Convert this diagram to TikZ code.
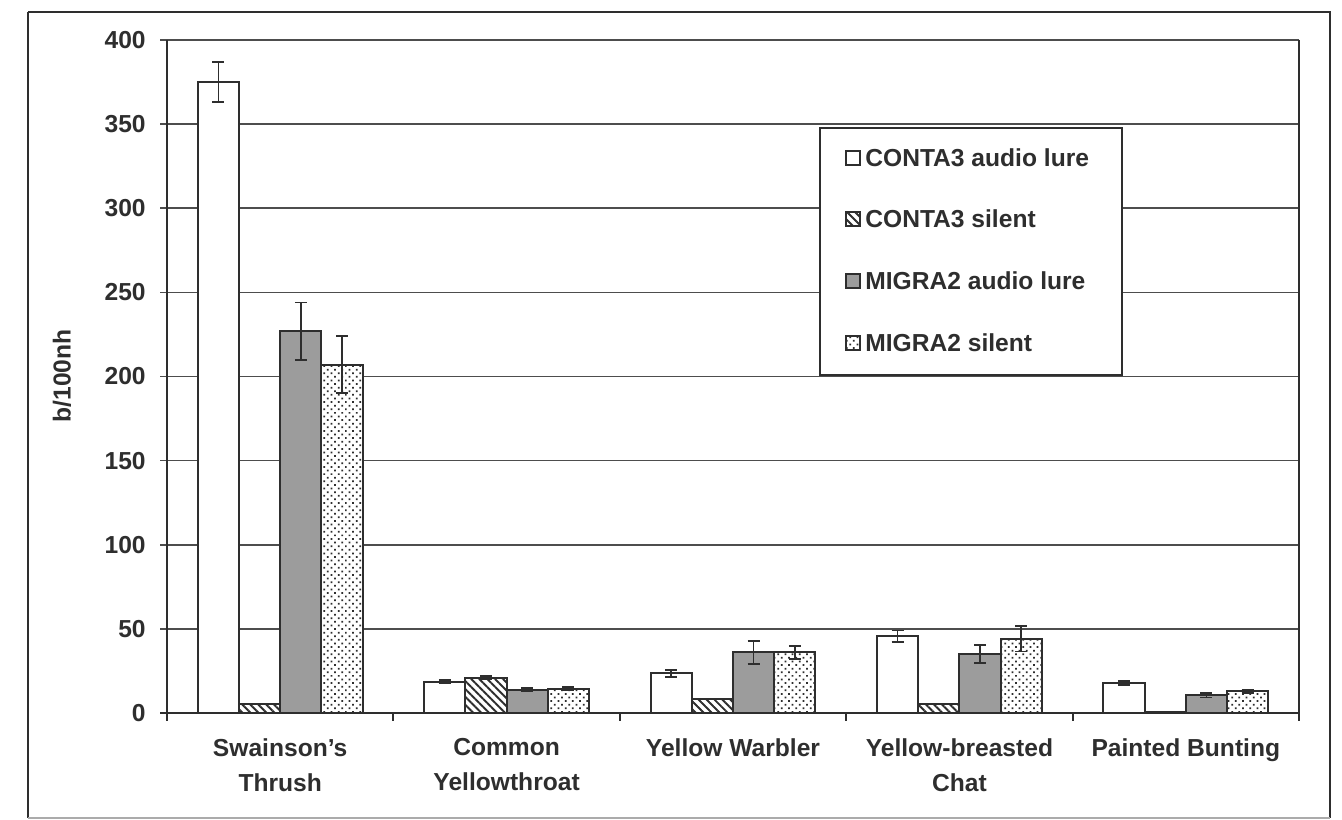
\documentclass[tikz,border=0pt]{standalone}
\usepackage{fontspec}
\setmainfont{Liberation Sans}
\usetikzlibrary{patterns.meta}
\definecolor{ink}{HTML}{2E2E2E}
\definecolor{barg}{HTML}{9C9C9C}
\begin{document}
\begin{tikzpicture}[x=0.02cm,y=-0.02cm,
  lbl/.style={font=\fontsize{14}{20}\selectfont\bfseries, text=ink, inner sep=0pt},
  axisline/.style={draw=ink, line width=1.1pt},
  gridline/.style={draw=ink!85, line width=0.9pt},
  bar0/.style={draw=ink, line width=1.1pt, fill=white},
  bar1/.style={draw=ink, line width=1.1pt, preaction={fill=white}, pattern={Lines[angle=-45,distance=3.2pt,line width=1.1pt]}, pattern color=ink},
  bar2/.style={draw=ink, line width=1.1pt, fill=barg},
  bar3/.style={draw=ink, line width=1.1pt, preaction={fill=white}, pattern={Dots[angle=45,distance=2.9pt,radius=0.7pt]}, pattern color=ink},
  errbar/.style={draw=ink, line width=1pt}]
\useasboundingbox (0,0) rectangle (1342,820);
% outer frame
\draw[draw=ink, line width=1pt] (28,12) -- (1330,12) -- (1330,818);
\draw[draw=ink, line width=1pt] (28,12) -- (28,818);
\draw[draw=ink!40, line width=0.6pt] (28,818) -- (1330,818);
% gridlines
\foreach \v in {50,100,...,400} {
  \pgfmathsetmacro\yy{713-1.6825*\v}
  \draw[gridline] (160,\yy) -- (1299,\yy);
}
% plot area sides
\draw[axisline] (167,40) -- (167,713);
\draw[axisline] (1299,40) -- (1299,713);
% bars: category/series/value/error
\foreach \c/\s/\v/\e in {
  0/0/375/12, 0/1/5.5/0, 0/2/227/17, 0/3/207/17,
  1/0/18.5/1, 1/1/21/0.8, 1/2/13.8/1, 1/3/14.5/1,
  2/0/23.5/2, 2/1/8.5/0, 2/2/36/7, 2/3/36/4,
  3/0/45.5/3.5, 3/1/5.5/0, 3/2/35/5.5, 3/3/44/7.5,
  4/0/18/1.2, 4/1/0.8/0, 4/2/10.5/1.3, 4/3/13/1} {
  \pgfmathsetmacro\xl{197.8+226.4*\c+41.2*\s}
  \pgfmathsetmacro\xr{\xl+41.2}
  \pgfmathsetmacro\xm{\xl+20.6}
  \pgfmathsetmacro\yt{713-1.6825*\v}
  \draw[bar\s] (\xl,713) rectangle (\xr,\yt);
  \pgfmathparse{\e>0 ? 1 : 0}
  \ifnum\pgfmathresult=1
    \pgfmathsetmacro\ya{713-1.6825*(\v+\e)}
    \pgfmathsetmacro\yb{713-1.6825*(\v-\e)}
    \draw[errbar] (\xm,\ya) -- (\xm,\yb);
    \draw[errbar] (\xm-6,\ya) -- (\xm+6,\ya);
    \draw[errbar] (\xm-6,\yb) -- (\xm+6,\yb);
  \fi
}
% bottom axis
\draw[axisline] (160,713) -- (1299,713);
\foreach \k in {0,...,5} {
  \pgfmathsetmacro\xx{167+226.4*\k}
  \draw[axisline] (\xx,713) -- (\xx,721);
}
% y tick labels
\foreach \v in {0,50,...,400} {
  \pgfmathsetmacro\yy{713-1.6825*\v}
  \node[lbl, anchor=east] (yl\v) at (146,\yy) {\v};
}
\node[lbl, rotate=90] (ylabel) at (62,376) {b/100nh};
% category labels
\node[lbl, anchor=north, align=center] (c0) at (280.2,738) {Swainson’s\\Thrush};
\node[lbl, anchor=north, align=center] (c1) at (506.6,738) {Common\\Yellowthroat};
\node[lbl, anchor=north, align=center] (c2) at (733,738) {Yellow Warbler};
\node[lbl, anchor=north, align=center] (c3) at (959.4,738) {Yellow-breasted\\Chat};
\node[lbl, anchor=north, align=center] (c4) at (1185.8,738) {Painted Bunting};
% legend
\draw[draw=ink, line width=1.1pt, fill=white] (820,128) rectangle (1122,375);
\foreach \s/\yy/\t in {0/158/CONTA3 audio lure, 1/219/CONTA3 silent, 2/281/MIGRA2 audio lure, 3/343/MIGRA2 silent} {
  \draw[bar\s, line width=0.9pt] (846,\yy-7) rectangle (860,\yy+7);
  \node[lbl, anchor=west] (leg\s) at (865,\yy) {\t};
}
\end{tikzpicture}
\end{document}
